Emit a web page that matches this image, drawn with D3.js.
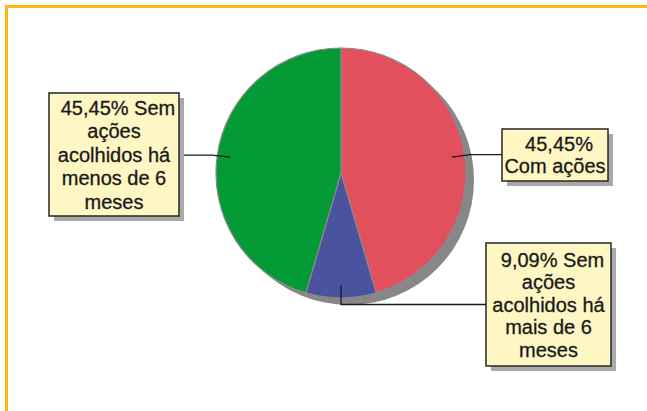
<!DOCTYPE html>
<meta charset="utf-8">
<style>
body { margin: 0; background: #fff; }
svg { display: block; }
.lbl text { font: 20px "Liberation Sans", Arial, sans-serif; fill: #1a1a1a; stroke: #1a1a1a; stroke-width: 0.3px; }
</style>
<body>
<script src="https://d3js.org/d3.v7.min.js"></script>
<script>

// data
var categories = ["Com ações", "Sem ações acolhidos há mais de 6 meses", "Sem ações acolhidos há menos de 6 meses"];
var values = [45.45, 9.09, 45.45];
var colors = ["#e2505d", "#4a539d", "#049b37"];
var labelLines = [
  ["45,45%", "Com ações"],
  ["9,09% Sem", "ações", "acolhidos há", "mais de 6", "meses"],
  ["45,45% Sem", "ações", "acolhidos há", "menos de 6", "meses"]
];

var width = 647, height = 411;
var cx = 341, cy = 173, r = 125;

var svg = d3.select("body").append("svg")
    .attr("width", width)
    .attr("height", height);

// orange frame (only top and left edges visible)
svg.append("rect")
    .attr("x", 6.5).attr("y", 6.5)
    .attr("width", width + 20).attr("height", height + 20)
    .attr("fill", "none")
    .attr("stroke", "#fdb813")
    .attr("stroke-width", 3);

var pie = d3.pie().sort(null).value(function(d) { return d; });
var arcs = pie(values);

var arc = d3.arc().innerRadius(0).outerRadius(r);
var inner = d3.arc().innerRadius(112).outerRadius(112);

var g = svg.append("g").attr("transform", "translate(" + cx + "," + cy + ")");

// shadow
g.append("circle")
    .attr("cx", 8).attr("cy", 7)
    .attr("r", r)
    .attr("fill", "#878787");

g.selectAll("path.slice")
    .data(arcs)
  .enter().append("path")
    .attr("class", "slice")
    .attr("d", arc)
    .attr("fill", function(d, i) { return colors[i]; })
    .attr("stroke", "#8a8a8a")
    .attr("stroke-width", 1.2);

// label boxes
var boxes = [
  {x: 502, y: 129, w: 106, h: 52, lh: 22, side: "right"},
  {x: 486, y: 243, w: 125, h: 123, lh: 22.5, side: "bottom"},
  {x: 49, y: 93, w: 130, h: 123, lh: 23.5, side: "left"}
];

// leader lines
arcs.forEach(function(d, i) {
  var c = inner.centroid(d);
  var sx = cx + c[0], sy = cy + c[1];
  var b = boxes[i], pts;
  if (b.side === "right") {
    pts = [[sx, sy], [sx + 18, sy - 2.5], [b.x, sy - 2.5]];
  } else if (b.side === "left") {
    pts = [[sx, sy], [sx - 18, sy - 2], [b.x + b.w, sy - 2]];
  } else {
    pts = [[sx, sy], [sx, 304.5], [b.x, 304.5]];
  }
  svg.append("path")
      .attr("d", d3.line()(pts))
      .attr("fill", "none")
      .attr("stroke", "#1a1a1a")
      .attr("stroke-width", 1.3);
});

boxes.forEach(function(b, i) {
  var lg = svg.append("g").attr("class", "lbl");
  lg.append("rect")
      .attr("x", b.x + 5).attr("y", b.y + 5)
      .attr("width", b.w).attr("height", b.h)
      .attr("fill", "#a9a9a9");
  lg.append("rect")
      .attr("x", b.x).attr("y", b.y)
      .attr("width", b.w).attr("height", b.h)
      .attr("fill", "#fef6c3")
      .attr("stroke", "#262626")
      .attr("stroke-width", 1.5);
  var lines = labelLines[i];
  var top = b.y + b.h / 2 - (lines.length - 1) * b.lh / 2;
  lines.forEach(function(t, j) {
    lg.append("text")
        .attr("x", b.x + b.w / 2 + (j === 0 ? 4 : 0))
        .attr("y", top + j * b.lh)
        .attr("dy", "0.35em")
        .attr("text-anchor", "middle")
        .text(t);
  });
});

</script>
</body>
